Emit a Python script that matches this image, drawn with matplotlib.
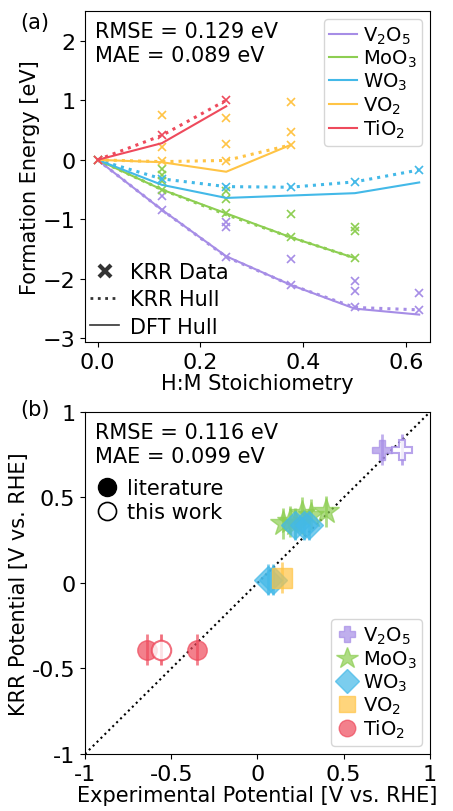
import matplotlib
matplotlib.use('Agg')
import matplotlib.pyplot as plt
from matplotlib.lines import Line2D

plt.rcParams['font.size'] = 15
plt.rcParams['xtick.labelsize'] = 16
plt.rcParams['ytick.labelsize'] = 16

names = ['V$_2$O$_5$', 'MoO$_3$', 'WO$_3$', 'VO$_2$', 'TiO$_2$']
colors = ['#a68de6', '#8dce52', '#43b9e8', '#ffc445', '#ee4a5c']

# (a) formation energy vs H:M stoichiometry
hull_x = {
    'V2O5': [0, 0.125, 0.25, 0.375, 0.5, 0.625],
    'MoO3': [0, 0.125, 0.25, 0.375, 0.5],
    'WO3': [0, 0.125, 0.25, 0.375, 0.5, 0.625],
    'VO2': [0, 0.125, 0.25, 0.375],
    'TiO2': [0, 0.125, 0.25],
}
dft_hull = {
    'V2O5': [0, -0.84, -1.62, -2.1, -2.5, -2.6],
    'MoO3': [0, -0.5, -0.9, -1.3, -1.65],
    'WO3': [0, -0.42, -0.64, -0.6, -0.56, -0.38],
    'VO2': [0, -0.04, -0.2, 0.25],
    'TiO2': [0, 0.28, 0.9],
}
krr_hull = {
    'V2O5': [0, -0.84, -1.63, -2.1, -2.48, -2.52],
    'MoO3': [0, -0.5, -0.92, -1.3, -1.65],
    'WO3': [0, -0.32, -0.45, -0.46, -0.37, -0.17],
    'VO2': [0, -0.03, -0.01, 0.25],
    'TiO2': [0, 0.41, 1.0],
}
krr_x = {
    'V2O5': [0, 0.125, 0.125, 0.25, 0.25, 0.25, 0.375, 0.375, 0.5, 0.5, 0.5, 0.625, 0.625],
    'MoO3': [0, 0.125, 0.125, 0.125, 0.125, 0.25, 0.25, 0.25, 0.375, 0.375, 0.5, 0.5, 0.5],
    'WO3': [0, 0.125, 0.25, 0.375, 0.5, 0.625],
    'VO2': [0, 0.125, 0.125, 0.125, 0.25, 0.25, 0.25, 0.375, 0.375, 0.375],
    'TiO2': [0, 0.125, 0.25],
}
krr_y = {
    'V2O5': [0, -0.6, -0.84, -1.05, -1.13, -1.63, -1.66, -2.1, -2.03, -2.2, -2.48, -2.24, -2.52],
    'MoO3': [0, -0.15, -0.25, -0.35, -0.5, -0.53, -0.66, -0.9, -0.91, -1.3, -1.13, -1.2, -1.65],
    'WO3': [0, -0.32, -0.45, -0.46, -0.37, -0.17],
    'VO2': [0, 0.76, 0.22, -0.02, 0.7, 0.27, -0.02, 0.97, 0.47, 0.25],
    'TiO2': [0, 0.41, 1.0],
}
keys = ['V2O5', 'MoO3', 'WO3', 'VO2', 'TiO2']

# (b) KRR vs experimental potential; filled = literature, open = this work
markers = ['P', '*', 'D', 's', 'o']
exp_lit = {
    'V2O5': [0.72],
    'MoO3': [0.15, 0.19, 0.22, 0.26, 0.31, 0.40],
    'WO3': [0.06, 0.09, 0.22, 0.27, 0.30],
    'VO2': [0.14],
    'TiO2': [-0.64, -0.35],
}
krr_lit = {
    'V2O5': [0.78],
    'MoO3': [0.35, 0.36, 0.35, 0.41, 0.40, 0.42],
    'WO3': [0.02, 0.02, 0.34, 0.34, 0.34],
    'VO2': [0.03],
    'TiO2': [-0.39, -0.39],
}
exp_new = {'V2O5': [0.84], 'TiO2': [-0.56]}
krr_new = {'V2O5': [0.78], 'TiO2': [-0.39]}
krr_err = 0.09

fig = plt.figure(figsize=(4.53, 8.12), dpi=100)
ax1 = fig.add_axes([0.1876, 0.5776, 0.7616, 0.4076])
ax2 = fig.add_axes([0.1876, 0.0702, 0.7616, 0.4212])

for k, name, c in zip(keys, names, colors):
    ax1.plot(hull_x[k], dft_hull[k], '-', color=c, lw=1.5, label=name)
    ax1.plot(hull_x[k], krr_hull[k], ':', color=c, lw=2.2)
    ax1.plot(krr_x[k], krr_y[k], 'x', color=c, ms=6, mew=1.2)

ax1.set_xlim(-0.0245, 0.646)
ax1.set_ylim(-3.06, 2.5)
ax1.set_yticks([-3, -2, -1, 0, 1, 2])
ax1.set_xticks([0, 0.2, 0.4, 0.6])
ax1.set_xlabel('H:M Stoichiometry', labelpad=1)
ax1.set_ylabel('Formation Energy [eV]', labelpad=2)
ax1.text(0.03, 0.97, 'RMSE = 0.129 eV\nMAE = 0.089 eV', transform=ax1.transAxes,
         va='top', ha='left', linespacing=1.25)
leg1 = ax1.legend(loc='upper right', fontsize=14, handlelength=1.4, handletextpad=0.3,
                  labelspacing=0.1, borderpad=0.3, borderaxespad=0.4)
ax1.add_artist(leg1)
style_handles = [
    Line2D([], [], ls='none', marker='x', color='#333333', ms=9, mew=3),
    Line2D([], [], ls=':', color='#333333', lw=2),
    Line2D([], [], ls='-', color='#333333', lw=1.2),
]
ax1.legend(style_handles, ['KRR Data', 'KRR Hull', 'DFT Hull'], loc='lower left',
           frameon=False, handlelength=1.4, handletextpad=0.5, labelspacing=0.35,
           borderaxespad=0.05, borderpad=0.2)

ax2.plot([-1, 1], [-1, 1], ':', color='black', lw=1.5)
for k, name, c, m in zip(keys, names, colors, markers):
    ms = 19 if m == '*' else 14
    ax2.errorbar(exp_lit[k], krr_lit[k], yerr=krr_err, fmt=m, color=c, ms=ms,
                 alpha=0.7, elinewidth=2, capsize=0, mec=c, label=name)
    if k in exp_new:
        ax2.errorbar(exp_new[k], krr_new[k], yerr=krr_err, fmt=m, color=c, ms=ms,
                     mfc='white', mec=c, mew=1.5, alpha=0.8, elinewidth=2, capsize=0)

ax2.set_xlim(-1, 1)
ax2.set_ylim(-1, 1)
ticks = [-1, -0.5, 0, 0.5, 1]
tick_labels = ['-1', '-0.5', '0', '0.5', '1']
ax2.set_xticks(ticks)
ax2.set_xticklabels(tick_labels)
ax2.set_yticks(ticks)
ax2.set_yticklabels(tick_labels)
ax2.set_xlabel('Experimental Potential [V vs. RHE]', labelpad=1)
ax2.set_ylabel('KRR Potential [V vs. RHE]', labelpad=2)
ax2.text(0.03, 0.97, 'RMSE = 0.116 eV\nMAE = 0.099 eV', transform=ax2.transAxes,
         va='top', ha='left', linespacing=1.25)

leg_handles, leg_labels = ax2.get_legend_handles_labels()
leg2 = ax2.legend([h[0] for h in leg_handles], leg_labels, loc='lower right', fontsize=14,
                  handlelength=1.0, handletextpad=0.3, labelspacing=0.1, borderpad=0.3,
                  borderaxespad=0.4, markerscale=0.85)
ax2.add_artist(leg2)
src_handles = [
    Line2D([], [], ls='none', marker='o', color='black', ms=13),
    Line2D([], [], ls='none', marker='o', mfc='white', mec='black', mew=1.2, ms=13),
]
ax2.legend(src_handles, ['literature', 'this work'], loc='upper left',
           bbox_to_anchor=(-0.01, 0.85), frameon=False, handlelength=1.0,
           handletextpad=0.5, labelspacing=0.2, borderpad=0.2)

fig.text(0.045, 0.972, '(a)', fontsize=15, ha='left', va='center')
fig.text(0.045, 0.495, '(b)', fontsize=15, ha='left', va='center')

fig.savefig('out.png', dpi=100)
